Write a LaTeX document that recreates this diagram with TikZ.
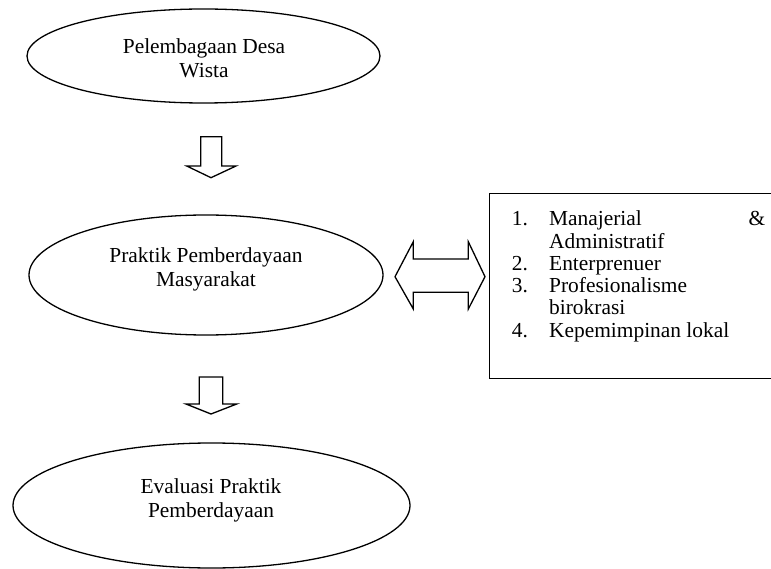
\documentclass[tikz,border=0pt]{standalone}
\usepackage{fontspec}
\setmainfont{Liberation Serif}
\usetikzlibrary{shapes.geometric}
\newcommand{\ellfont}{\fontsize{21.4}{24}\selectfont}
\newcommand{\listfont}{\fontsize{21.4}{22.3}\selectfont}
\newcommand{\numbox}[1]{\makebox[37.3pt][l]{#1}}
\tikzset{
  oval/.style={ellipse, draw, line width=1.3pt, inner sep=0pt},
  ovaltext/.style={anchor=base, align=center, inner sep=0pt, font=\ellfont},
  blockarrow/.style={draw, line width=1.3pt, line join=miter, fill=white},
  listbox/.style={draw, line width=1.3pt, rectangle, inner sep=0pt, anchor=north west}
}
\begin{document}
\begin{tikzpicture}[x=1pt,y=-1pt]
\useasboundingbox (0,0) rectangle (771,569);
% ellipses
\node[oval, minimum width=353pt, minimum height=94pt] (e1) at (203.5,56) {};
\node[ovaltext] (e1t) at (204,78) {Pelembagaan Desa\\Wista};
\node[oval, minimum width=354pt, minimum height=120pt] (e2) at (206,275) {};
\node[ovaltext] (e2t) at (206,287) {Praktik Pemberdayaan\\Masyarakat};
\node[oval, minimum width=397pt, minimum height=125pt] (e3) at (211.5,505.5) {};
\node[ovaltext] (e3t) at (211,517) {Evaluasi Praktik\\Pemberdayaan};
% box
\node[listbox, minimum width=286pt, minimum height=185pt] (box) at (489,193) {};
\node[anchor=base west, align=left, inner sep=0pt, font=\listfont] (items) at (511.7,337.3)
  {\numbox{1.}\makebox[216pt][s]{Manajerial\hfill\&}\\
   \numbox{}Administratif\\
   \numbox{2.}Enterprenuer\\
   \numbox{3.}Profesionalisme\\
   \numbox{}birokrasi\\
   \numbox{4.}Kepemimpinan lokal};
% block arrows
\coordinate (a1) at (211,136.7);
\coordinate (a2) at (211,377);
\coordinate (d) at (440,276.7);
\draw[blockarrow] (a1) ++(-10.3,0) -- ++(21,0) -- ++(0,29.3) -- ++(14.3,0) -- ++(-25,11.7) -- ++(-24.3,-11.7) -- ++(14,0) -- cycle;
\draw[blockarrow] (a2) ++(-11.7,0) -- ++(23.4,0) -- ++(0,27) -- ++(14,0) -- ++(-25.7,10) -- ++(-25,-10) -- ++(13.3,0) -- cycle;
\draw[blockarrow] (d) ++(-45,0) -- ++(18.3,-35) -- ++(0,17.3) -- ++(55,0) -- ++(0,-17.3) -- ++(16.7,35) -- ++(-16.7,32.3) -- ++(0,-16.7) -- ++(-55,0) -- ++(0,16.7) -- cycle;
\end{tikzpicture}
\end{document}
